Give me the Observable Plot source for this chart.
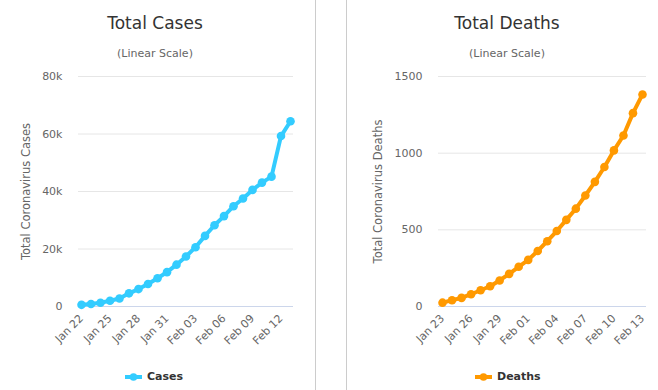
<!DOCTYPE html>
<html><head><meta charset="utf-8">
<script src="https://cdn.jsdelivr.net/npm/d3@7"></script>
<script src="https://cdn.jsdelivr.net/npm/@observablehq/plot@0.6"></script>
<style>
body{margin:0;background:#fff;font-family:"DejaVu Sans",sans-serif}
#wrap{position:relative;width:658px;height:390px;overflow:hidden;background:#fff}
.sep{position:absolute;top:0;width:1px;height:390px;background:#ccc}
.title{position:absolute;font-size:17px;color:#333;line-height:17px;white-space:nowrap;transform:translateX(-50%)}
.sub{position:absolute;font-size:11px;color:#666;line-height:11px;white-space:nowrap;transform:translateX(-50%)}
.legend{position:absolute;font-size:11px;font-weight:bold;color:#333;line-height:11px;white-space:nowrap;display:flex;align-items:center;gap:5px}
.chart{position:absolute;top:60px}
</style></head>
<body><div id="wrap">
<div class="sep" style="left:315px"></div>
<div class="sep" style="left:346px"></div>
<div class="title" style="left:155px;top:15px">Total Cases</div>
<div class="sub" style="left:155px;top:48px">(Linear Scale)</div>
<div class="title" style="left:507px;top:15px">Total Deaths</div>
<div class="sub" style="left:507px;top:48px">(Linear Scale)</div>
<div id="c1" class="chart" style="left:0px"></div>
<div id="c2" class="chart" style="left:346px"></div>
<div id="l1" class="legend" style="left:125px;top:371px"></div>
<div id="l2" class="legend" style="left:475px;top:371px"></div>
</div>
<script>
const caseDates = ["2020-01-22","2020-01-23","2020-01-24","2020-01-25","2020-01-26","2020-01-27","2020-01-28","2020-01-29","2020-01-30","2020-01-31","2020-02-01","2020-02-02","2020-02-03","2020-02-04","2020-02-05","2020-02-06","2020-02-07","2020-02-08","2020-02-09","2020-02-10","2020-02-11","2020-02-12","2020-02-13"];
const caseValues = [580, 845, 1317, 2015, 2800, 4581, 6058, 7813, 9823, 11948, 14551, 17389, 20628, 24553, 28276, 31439, 34876, 37552, 40553, 43099, 45170, 59283, 64437];
const deathDates = ["2020-01-23","2020-01-24","2020-01-25","2020-01-26","2020-01-27","2020-01-28","2020-01-29","2020-01-30","2020-01-31","2020-02-01","2020-02-02","2020-02-03","2020-02-04","2020-02-05","2020-02-06","2020-02-07","2020-02-08","2020-02-09","2020-02-10","2020-02-11","2020-02-12","2020-02-13"];
const deathValues = [25, 41, 56, 80, 106, 132, 170, 213, 259, 304, 362, 426, 492, 565, 638, 724, 813, 910, 1018, 1115, 1261, 1383];
const caseTicks = ["2020-01-22","2020-01-25","2020-01-28","2020-01-31","2020-02-03","2020-02-06","2020-02-09","2020-02-12"];
const deathTicks = ["2020-01-23","2020-01-26","2020-01-29","2020-02-01","2020-02-04","2020-02-07","2020-02-10","2020-02-13"];
const caseYTicks = [0, 20000, 40000, 60000, 80000];
const deathYTicks = [0, 500, 1000, 1500];
const caseColor = "#33ccff";
const deathColor = "#ff9900";

const parse = d3.utcParse("%Y-%m-%d");
const fmtDate = d3.utcFormat("%b %d");

function panel({dates, values, ticks, yTicks, yFmt, color, width, marginLeft, marginRight, inset, yLabel, labelOffset}) {
  const data = dates.map((d, i) => ({date: parse(d), value: values[i]}));
  const tickDates = ticks.map(parse);
  return Plot.plot({
    width, height: 300,
    marginTop: 16, marginBottom: 54, marginLeft, marginRight,
    style: {fontFamily: "DejaVu Sans, sans-serif", fontSize: "11px", color: "#666", background: "transparent", overflow: "visible"},
    x: {type: "utc", domain: [data[0].date, data[data.length - 1].date], insetLeft: inset, insetRight: inset},
    y: {domain: [0, yTicks[yTicks.length - 1]]},
    marks: [
      Plot.gridY(yTicks, {stroke: "#e6e6e6", strokeOpacity: 1}),
      Plot.ruleY([0], {stroke: "#ccd6eb", strokeOpacity: 1}),
      Plot.axisY({ticks: yTicks, tickSize: 0, tickPadding: 16, tickFormat: yFmt, label: null, fill: "#666"}),
      Plot.axisY({ticks: [], label: yLabel, labelAnchor: "center", labelArrow: "none", labelOffset, fontSize: 11.5, fill: "#666"}),
      Plot.axisX({ticks: tickDates, tickSize: 0, tickPadding: 10, tickRotate: -45, tickFormat: fmtDate, label: null, fill: "#666"}),
      Plot.line(data, {x: "date", y: "value", stroke: color, strokeWidth: 4, curve: "linear"}),
      Plot.dot(data, {x: "date", y: "value", fill: color, r: 4.3})
    ]
  });
}

document.getElementById("c1").append(panel({
  dates: caseDates, values: caseValues, ticks: caseTicks, yTicks: caseYTicks,
  yFmt: d => d === 0 ? "0" : (d / 1000) + "k", color: caseColor,
  width: 315, marginLeft: 78, marginRight: 22, inset: 3,
  yLabel: "Total Coronavirus Cases", labelOffset: 57
}));
document.getElementById("c2").append(panel({
  dates: deathDates, values: deathValues, ticks: deathTicks, yTicks: deathYTicks,
  yFmt: d => String(d), color: deathColor,
  width: 312, marginLeft: 92, marginRight: 12, inset: 4,
  yLabel: "Total Coronavirus Deaths", labelOffset: 65
}));

function legend(id, name, color) {
  const el = document.getElementById(id);
  const svg = d3.create("svg").attr("width", 17).attr("height", 10);
  svg.append("line").attr("x1", 0).attr("x2", 17).attr("y1", 5).attr("y2", 5).attr("stroke", color).attr("stroke-width", 4);
  svg.append("circle").attr("cx", 8.5).attr("cy", 5).attr("r", 3.8).attr("fill", color);
  el.append(svg.node());
  const s = document.createElement("span");
  s.textContent = name;
  el.append(s);
}
legend("l1", "Cases", caseColor);
legend("l2", "Deaths", deathColor);
</script>
</body></html>
